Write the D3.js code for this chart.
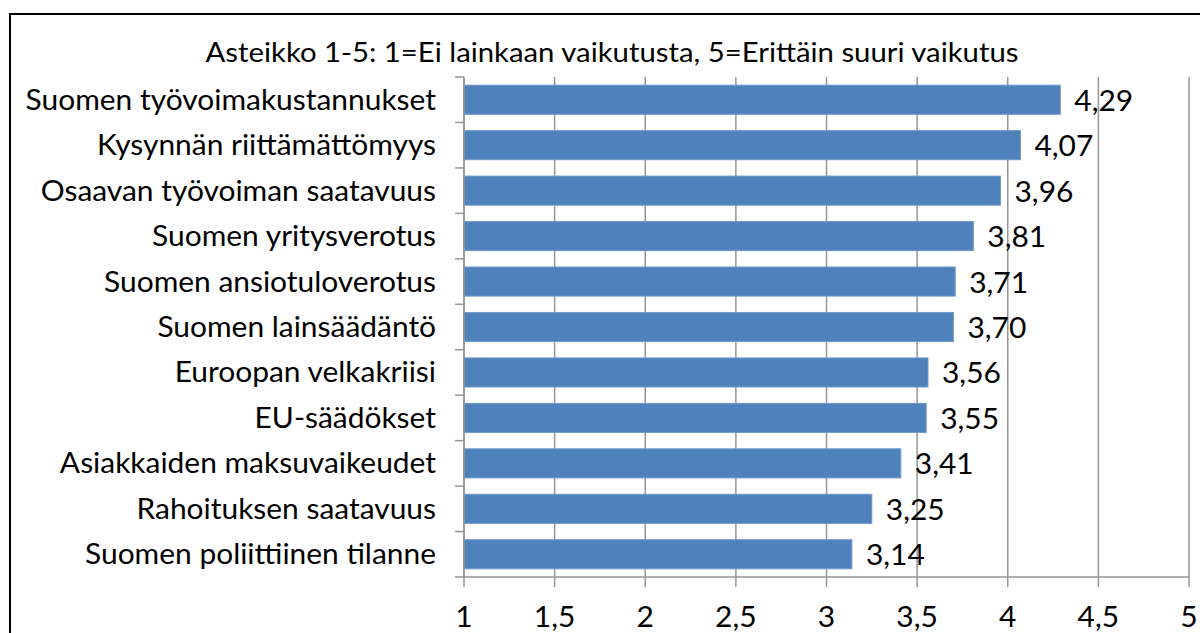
<!DOCTYPE html>
<html>
<head>
<meta charset="utf-8">
<script src="https://cdn.jsdelivr.net/npm/d3@7"></script>
<style>
  body { margin: 0; background: #fff; }
  svg { display: block; font-family: Lato, "Liberation Sans", sans-serif; }
</style>
</head>
<body>
<div id="chart"></div>
<script>
// values
var categories = [
  'Suomen työvoimakustannukset',
  'Kysynnän riittämättömyys',
  'Osaavan työvoiman saatavuus',
  'Suomen yritysverotus',
  'Suomen ansiotuloverotus',
  'Suomen lainsäädäntö',
  'Euroopan velkakriisi',
  'EU-säädökset',
  'Asiakkaiden maksuvaikeudet',
  'Rahoituksen saatavuus',
  'Suomen poliittiinen tilanne'
];
var values = [4.29, 4.07, 3.96, 3.81, 3.71, 3.70, 3.56, 3.55, 3.41, 3.25, 3.14];
var xTicks = [1, 1.5, 2, 2.5, 3, 3.5, 4, 4.5, 5];
var subtitle = 'Asteikko 1-5: 1=Ei lainkaan vaikutusta, 5=Erittäin suuri vaikutus';

var W = 1200, H = 633;
var plotL = 464, plotR = 1189, plotT = 77, plotB = 577;
var fs = 28.5;
var sx = 1.05; // Lato is a touch narrower than the original font
var grid = '#969696';

var comma = function(s) { return s.replace('.', ','); };
var place = function(px, py) { return 'translate(' + px + ',' + py + ') scale(' + sx + ',1)'; };

var svg = d3.select('#chart').append('svg')
  .attr('width', W)
  .attr('height', H);

// chart frame
svg.append('rect')
  .attr('x', 10)
  .attr('y', 14)
  .attr('width', 1220)
  .attr('height', 660)
  .attr('fill', '#fff')
  .attr('stroke', '#000')
  .attr('stroke-width', 2);

svg.append('text')
  .attr('transform', place(612, 62))
  .attr('text-anchor', 'middle')
  .attr('font-size', fs * 0.98)
  .attr('fill', '#000')
  .text(subtitle);

var x = d3.scaleLinear().domain([1, 5]).range([plotL, plotR]);
var y = d3.scaleBand().domain(categories).range([plotT, plotB])
  .paddingInner(0.36).paddingOuter(0.18);

// vertical gridlines, running below the axis as tick marks
svg.append('g').selectAll('line.grid').data(xTicks)
  .enter()
    .append('line')
      .attr('class', 'grid')
      .attr('x1', function(d) { return x(d); })
      .attr('x2', function(d) { return x(d); })
      .attr('y1', plotT)
      .attr('y2', plotB + 10)
      .attr('stroke', grid)
      .attr('stroke-width', 1.5);

svg.append('g').selectAll('rect.bar').data(values)
  .enter()
    .append('rect')
      .attr('class', 'bar')
      .attr('x', x(1))
      .attr('y', function(d, i) { return y(categories[i]); })
      .attr('width', function(d) { return x(d) - x(1); })
      .attr('height', y.bandwidth())
      .attr('fill', '#4f81bd')
      .attr('stroke', '#7099cb')
      .attr('stroke-width', 1);

// y axis with ticks between categories
var yAxis = svg.append('g');
yAxis.append('line')
  .attr('x1', plotL).attr('x2', plotL)
  .attr('y1', plotT).attr('y2', plotB)
  .attr('stroke', grid)
  .attr('stroke-width', 1.5);
var step = y.step();
yAxis.selectAll('line.tick').data(d3.range(categories.length + 1))
  .enter()
    .append('line')
      .attr('class', 'tick')
      .attr('x1', plotL - 9).attr('x2', plotL)
      .attr('y1', function(i) { return plotT + i * step; })
      .attr('y2', function(i) { return plotT + i * step; })
      .attr('stroke', grid)
      .attr('stroke-width', 1.5);

// x axis line
svg.append('line')
  .attr('x1', plotL).attr('x2', plotR)
  .attr('y1', plotB).attr('y2', plotB)
  .attr('stroke', grid)
  .attr('stroke-width', 1.5);

svg.append('g').selectAll('text.xlab').data(xTicks)
  .enter()
    .append('text')
      .attr('class', 'xlab')
      .attr('transform', function(d) { return place(x(d), 627); })
      .attr('text-anchor', 'middle')
      .attr('font-size', fs)
      .attr('fill', '#000')
      .text(function(d) { return comma(String(d)); });

svg.append('g').selectAll('text.cat').data(categories)
  .enter()
    .append('text')
      .attr('class', 'cat')
      .attr('transform', function(d) { return place(436, y(d) + y.bandwidth() / 2 + 10); })
      .attr('text-anchor', 'end')
      .attr('font-size', fs)
      .attr('fill', '#000')
      .text(function(d) { return d; });

svg.append('g').selectAll('text.val').data(values)
  .enter()
    .append('text')
      .attr('class', 'val')
      .attr('transform', function(d, i) {
        return place(x(d) + 14, y(categories[i]) + y.bandwidth() / 2 + 11);
      })
      .attr('font-size', fs)
      .attr('fill', '#000')
      .text(function(d) { return comma(d3.format('.2f')(d)); });
</script>
</body>
</html>
